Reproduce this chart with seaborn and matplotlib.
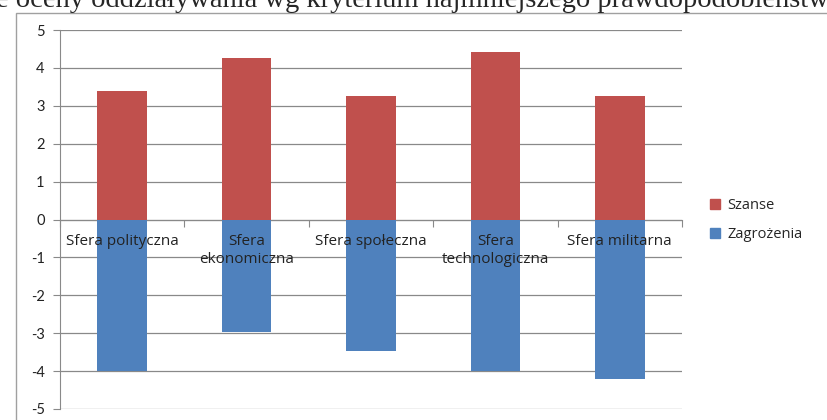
import pandas as pd
import matplotlib
matplotlib.use("Agg")
import matplotlib.pyplot as plt
import seaborn as sns
from matplotlib.patches import Rectangle, Patch

# dane
kategorie = ['Sfera polityczna', 'Sfera\nekonomiczna', 'Sfera społeczna',
             'Sfera\ntechnologiczna', 'Sfera militarna']
szanse = [3.4, 4.25, 3.27, 4.42, 3.27]
zagrozenia = [-4.0, -2.97, -3.48, -4.0, -4.22]
tytul = 'Sumaryczne oceny oddziaływania wg kryterium najmniejszego prawdopodobieństwa'

KOLOR_SZANSE = '#C0504D'
KOLOR_ZAGR = '#4F81BD'
SZARY = '#898989'


def main():
    sns.set_style('white')
    plt.rcParams['font.family'] = ['Lato', 'DejaVu Sans']
    plt.rcParams['axes.unicode_minus'] = False

    df = pd.DataFrame({'kategoria': kategorie, 'Szanse': szanse, 'Zagrożenia': zagrozenia})

    fig = plt.figure(figsize=(8.27, 4.20), dpi=100)
    ax = fig.add_axes([60 / 827, 1 - 409 / 420, 622 / 827, 379 / 420])

    # ramka obszaru wykresu
    fig.patches.append(Rectangle((16 / 827, -0.1), 1.2, 1 - 13 / 420 + 0.1,
                                 transform=fig.transFigure, fill=False,
                                 edgecolor='#A0A0A0', linewidth=1.0, zorder=0))

    sns.barplot(data=df, x='kategoria', y='Szanse', color=KOLOR_SZANSE,
                width=0.4, saturation=1, linewidth=0, ax=ax, zorder=3)
    sns.barplot(data=df, x='kategoria', y='Zagrożenia', color=KOLOR_ZAGR,
                width=0.4, saturation=1, linewidth=0, ax=ax, zorder=3)

    ax.set_ylim(-5, 5)
    ax.set_xlim(-0.5, 4.5)
    ax.set_yticks(range(-5, 6))
    ax.yaxis.grid(True, color=SZARY, linewidth=0.9, zorder=0)
    ax.set_axisbelow(True)
    ax.set_xlabel('')
    ax.set_ylabel('')

    for s in ['top', 'right']:
        ax.spines[s].set_visible(False)
    ax.spines['left'].set_color(SZARY)
    ax.spines['bottom'].set_color(SZARY)
    ax.spines['bottom'].set_position(('data', 0))

    ax.set_xticks([i - 0.5 for i in range(6)])
    ax.set_xticklabels([])
    ax.tick_params(axis='x', which='major', direction='out', length=5,
                   color=SZARY, bottom=True)
    ax.tick_params(axis='y', direction='out', length=5, color=SZARY, left=True,
                   labelsize=10.5, labelcolor='#222222', pad=6)

    # etykiety kategorii nad słupkami
    for i, k in enumerate(kategorie):
        ax.text(i, -0.38, k, ha='center', va='top', fontsize=11, color='#222222',
                linespacing=1.25, zorder=6, family=['Open Sans', 'DejaVu Sans'])

    uchwyty = [Patch(color=KOLOR_SZANSE, label='Szanse'),
               Patch(color=KOLOR_ZAGR, label='Zagrożenia')]
    fig.legend(handles=uchwyty, loc='upper left', bbox_to_anchor=(697 / 827, 1 - 185 / 420),
               frameon=False, handlelength=0.7, handleheight=0.7,
               handletextpad=0.5, labelspacing=0.95,
               prop={'family': ['Open Sans', 'DejaVu Sans'], 'size': 10.5})

    fig.text(1 + 14 / 827, 1 - 7 / 420, tytul, ha='right', va='baseline',
             fontsize=20.5, family=['Liberation Serif', 'DejaVu Serif'])

    fig.savefig('out.png', dpi=100)


if __name__ == "__main__":
    main()
